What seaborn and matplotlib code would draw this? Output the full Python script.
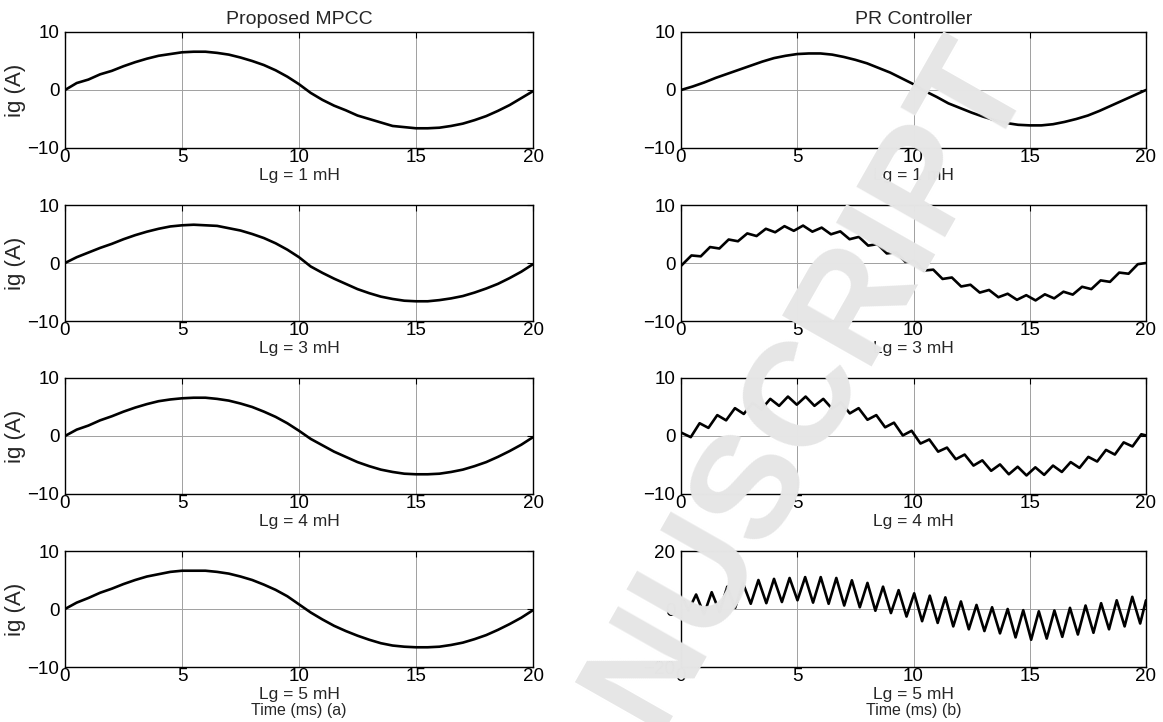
import matplotlib
matplotlib.use("Agg")
import matplotlib.pyplot as plt
import seaborn as sns
import numpy as np
import pandas as pd

# Figure settings
FIG_W, FIG_H, FIG_DPI = 1163, 722, 100
TICK_FONTSIZE = 13.5
TITLE_FONTSIZE = 14
YLABEL_FONTSIZE = 16
CASE_FONTSIZE = 12.5
TIME_FONTSIZE = 11.5

# ---- data ----
# left column: proposed MPCC, samples every 0.5 ms
t_smooth = np.arange(0, 20.5, 0.5)
mpcc_1mh = [0, 1.2, 1.8, 2.7, 3.3, 4.1, 4.8, 5.4, 5.9, 6.2, 6.5, 6.6, 6.6, 6.4, 6.1, 5.6, 5.0, 4.3, 3.4, 2.3,
            1.0, -0.5, -1.7, -2.7, -3.5, -4.4, -5.0, -5.6, -6.2, -6.4, -6.6, -6.6, -6.5, -6.2, -5.8, -5.2,
            -4.5, -3.6, -2.6, -1.4, -0.2]
mpcc_3mh = [0, 1.0, 1.8, 2.6, 3.3, 4.1, 4.8, 5.4, 5.9, 6.3, 6.5, 6.6, 6.5, 6.4, 6.0, 5.6, 5.0, 4.3, 3.4, 2.3,
            1.0, -0.6, -1.7, -2.7, -3.6, -4.5, -5.2, -5.8, -6.2, -6.5, -6.6, -6.6, -6.4, -6.1, -5.7, -5.1,
            -4.4, -3.6, -2.6, -1.5, -0.2]
mpcc_4mh = [0, 1.1, 1.8, 2.7, 3.4, 4.2, 4.9, 5.5, 6.0, 6.3, 6.5, 6.6, 6.6, 6.4, 6.1, 5.6, 5.0, 4.2, 3.3, 2.2,
            0.9, -0.5, -1.6, -2.7, -3.6, -4.5, -5.2, -5.8, -6.2, -6.5, -6.6, -6.6, -6.5, -6.2, -5.8, -5.2,
            -4.5, -3.6, -2.6, -1.5, -0.2]
mpcc_5mh = [0, 1.1, 1.9, 2.8, 3.5, 4.3, 5.0, 5.6, 6.0, 6.4, 6.6, 6.6, 6.6, 6.4, 6.1, 5.6, 5.0, 4.2, 3.3, 2.2,
            0.8, -0.6, -1.8, -2.9, -3.8, -4.6, -5.3, -5.9, -6.3, -6.5, -6.6, -6.6, -6.5, -6.2, -5.8, -5.2,
            -4.5, -3.6, -2.6, -1.5, -0.2]

# right column: PR controller
pr_1mh = [0, 0.6, 1.3, 2.1, 2.8, 3.5, 4.2, 4.9, 5.5, 5.9, 6.2, 6.3, 6.3, 6.1, 5.7, 5.2, 4.6, 3.8, 3.0, 2.0,
          1.0, -0.2, -1.2, -2.3, -3.1, -3.9, -4.6, -5.2, -5.7, -6.0, -6.1, -6.1, -5.9, -5.5, -5.0, -4.4,
          -3.6, -2.7, -1.8, -0.9, 0]

# Lg = 3 mH: ripple peaks / troughs
pr_3mh_t = [0, 0.45, 0.85, 1.25, 1.65, 2.05, 2.45, 2.85, 3.25, 3.65, 4.05, 4.45, 4.85, 5.25, 5.65, 6.05,
            6.45, 6.85, 7.25, 7.65, 8.05, 8.45, 8.85, 9.25, 9.65, 10.05, 10.45, 10.85, 11.25, 11.65, 12.05,
            12.45, 12.85, 13.25, 13.65, 14.05, 14.45, 14.85, 15.25, 15.65, 16.05, 16.45, 16.85, 17.25,
            17.65, 18.05, 18.45, 18.85, 19.25, 19.65, 20]
pr_3mh = [-0.5, 1.3, 1.15, 2.75, 2.5, 4.05, 3.75, 5.1, 4.65, 5.9, 5.3, 6.35, 5.55, 6.45, 5.4, 6.1, 4.95,
          5.45, 4.1, 4.5, 3.0, 3.25, 1.65, 1.85, 0.2, 0.35, -1.3, -1.15, -2.75, -2.5, -4.05, -3.75, -5.1,
          -4.65, -5.9, -5.3, -6.35, -5.55, -6.45, -5.4, -6.1, -4.95, -5.45, -4.1, -4.5, -3.0, -3.25, -1.65,
          -1.85, -0.2, 0]

# Lg = 4 mH
pr_4mh_t = [0, 0.42, 0.8, 1.18, 1.56, 1.94, 2.32, 2.7, 3.08, 3.46, 3.84, 4.22, 4.6, 4.98, 5.36, 5.74, 6.12,
            6.5, 6.88, 7.26, 7.64, 8.02, 8.4, 8.78, 9.16, 9.54, 9.92, 10.3, 10.68, 11.06, 11.44, 11.82,
            12.2, 12.58, 12.96, 13.34, 13.72, 14.1, 14.48, 14.86, 15.24, 15.62, 16.0, 16.38, 16.76, 17.14,
            17.52, 17.9, 18.28, 18.66, 19.04, 19.42, 19.8, 20]
pr_4mh = [0.6, -0.2, 2.2, 1.4, 3.6, 2.7, 4.8, 3.8, 5.7, 4.6, 6.4, 5.2, 6.8, 5.4, 6.8, 5.2, 6.4, 4.7, 5.8,
          3.9, 4.8, 2.8, 3.6, 1.5, 2.3, 0.1, 0.9, -1.3, -0.6, -2.7, -2.0, -4.0, -3.2, -5.1, -4.2, -6.0,
          -4.9, -6.6, -5.3, -6.8, -5.4, -6.7, -5.1, -6.2, -4.5, -5.5, -3.6, -4.4, -2.4, -3.2, -1.1, -1.8,
          0.3, 0.1]

# Lg = 5 mH: large ripple
pr_5mh_t = [0.12, 0.32, 0.65, 0.99, 1.32, 1.66, 1.99, 2.33, 2.66, 3.0, 3.33, 3.67, 4.0, 4.34, 4.67, 5.01,
            5.34, 5.68, 6.01, 6.35, 6.68, 7.02, 7.35, 7.69, 8.02, 8.36, 8.69, 9.03, 9.36, 9.7, 10.03,
            10.37, 10.7, 11.04, 11.37, 11.71, 12.04, 12.38, 12.71, 13.05, 13.38, 13.72, 14.05, 14.39,
            14.72, 15.06, 15.39, 15.73, 16.06, 16.4, 16.73, 17.07, 17.4, 17.74, 18.07, 18.41, 18.74,
            19.08, 19.41, 19.75, 20]
pr_5mh = [3.0, -0.5, 5.0, -1.8, 5.8, -1.0, 7.7, 0.4, 9.0, 1.8, 10.0, 2.0, 10.4, 2.4, 10.7, 3.0, 11.0, 2.2,
          11.0, 1.8, 10.7, 1.2, 9.9, 0.6, 9.0, -0.6, 7.7, -1.4, 6.5, -2.6, 5.4, -4.2, 4.6, -4.8, 4.0,
          -6.0, 2.6, -7.0, 1.4, -7.6, 0.6, -8.4, 0.0, -9.8, -0.4, -10.6, -0.8, -10.2, -0.5, -9.6, 0.4,
          -8.8, 1.2, -8.2, 2.0, -7.0, 3.0, -6.0, 4.2, -5.0, 3.0]

case_labels = ["Lg = 1 mH", "Lg = 3 mH", "Lg = 4 mH", "Lg = 5 mH"]
col_titles = ["Proposed MPCC", "PR Controller"]
time_labels = ["Time (ms) (a)", "Time (ms) (b)"]
x_ticks = [0, 5, 10, 15, 20]

left_series = [(t_smooth, mpcc_1mh), (t_smooth, mpcc_3mh), (t_smooth, mpcc_4mh), (t_smooth, mpcc_5mh)]
right_series = [(t_smooth, pr_1mh), (pr_3mh_t, pr_3mh), (pr_4mh_t, pr_4mh), (pr_5mh_t, pr_5mh)]
right_ylim = [10, 10, 10, 20]

sns.set_theme(style="white")
plt.rcParams["font.family"] = ["Liberation Sans", "DejaVu Sans"]

fig = plt.figure(figsize=(FIG_W / FIG_DPI, FIG_H / FIG_DPI), dpi=FIG_DPI)

COL_X = [(65, 533), (681, 1146)]
ROW_TOP = [32, 205, 378, 551]
AX_H = 116


def add_px_axes(x0, x1, top):
    return fig.add_axes([x0 / FIG_W, 1 - (top + AX_H) / FIG_H, (x1 - x0) / FIG_W, AX_H / FIG_H])


for col in range(2):
    series = left_series if col == 0 else right_series
    for row in range(4):
        ax = add_px_axes(COL_X[col][0], COL_X[col][1], ROW_TOP[row])
        t, y = series[row]
        df = pd.DataFrame({"t": t, "ig": y})
        sns.lineplot(data=df, x="t", y="ig", ax=ax, color="black", linewidth=1.9, estimator=None)

        lim = 10 if col == 0 else right_ylim[row]
        ax.set_xlim(0, 20)
        ax.set_ylim(-lim, lim)
        ax.set_xticks(x_ticks)
        ax.set_yticks([-lim, 0, lim])
        ax.grid(True, color="#a0a0a0", linewidth=0.7)
        ax.tick_params(direction="in", length=4, width=0.8, top=True, right=True,
                       labelsize=TICK_FONTSIZE, colors="black")
        ax.tick_params(axis="x", pad=1)
        ax.tick_params(axis="y", pad=4)
        for s in ax.spines.values():
            s.set_color("black")
            s.set_linewidth(1.0)
        ax.set_xlabel(case_labels[row], fontsize=CASE_FONTSIZE, labelpad=1)
        if col == 0:
            ax.set_ylabel("ig (A)", fontsize=YLABEL_FONTSIZE, labelpad=1)
        else:
            ax.set_ylabel("")
        if row == 0:
            ax.set_title(col_titles[col], fontsize=TITLE_FONTSIZE, pad=6)
        if row == 3:
            ax.text(0.5, -(711 - ROW_TOP[3] - AX_H) / AX_H, time_labels[col], transform=ax.transAxes,
                    ha="center", va="center", fontsize=TIME_FONTSIZE)

# watermark of the manuscript page
fig.text(0.468, -0.198, "ACCEPTED MANUSCRIPT", rotation=60.4, ha="center", va="center",
         fontsize=107, fontweight="bold", color="#e6e6e6", zorder=10)

fig.savefig("out.png", dpi=FIG_DPI)
